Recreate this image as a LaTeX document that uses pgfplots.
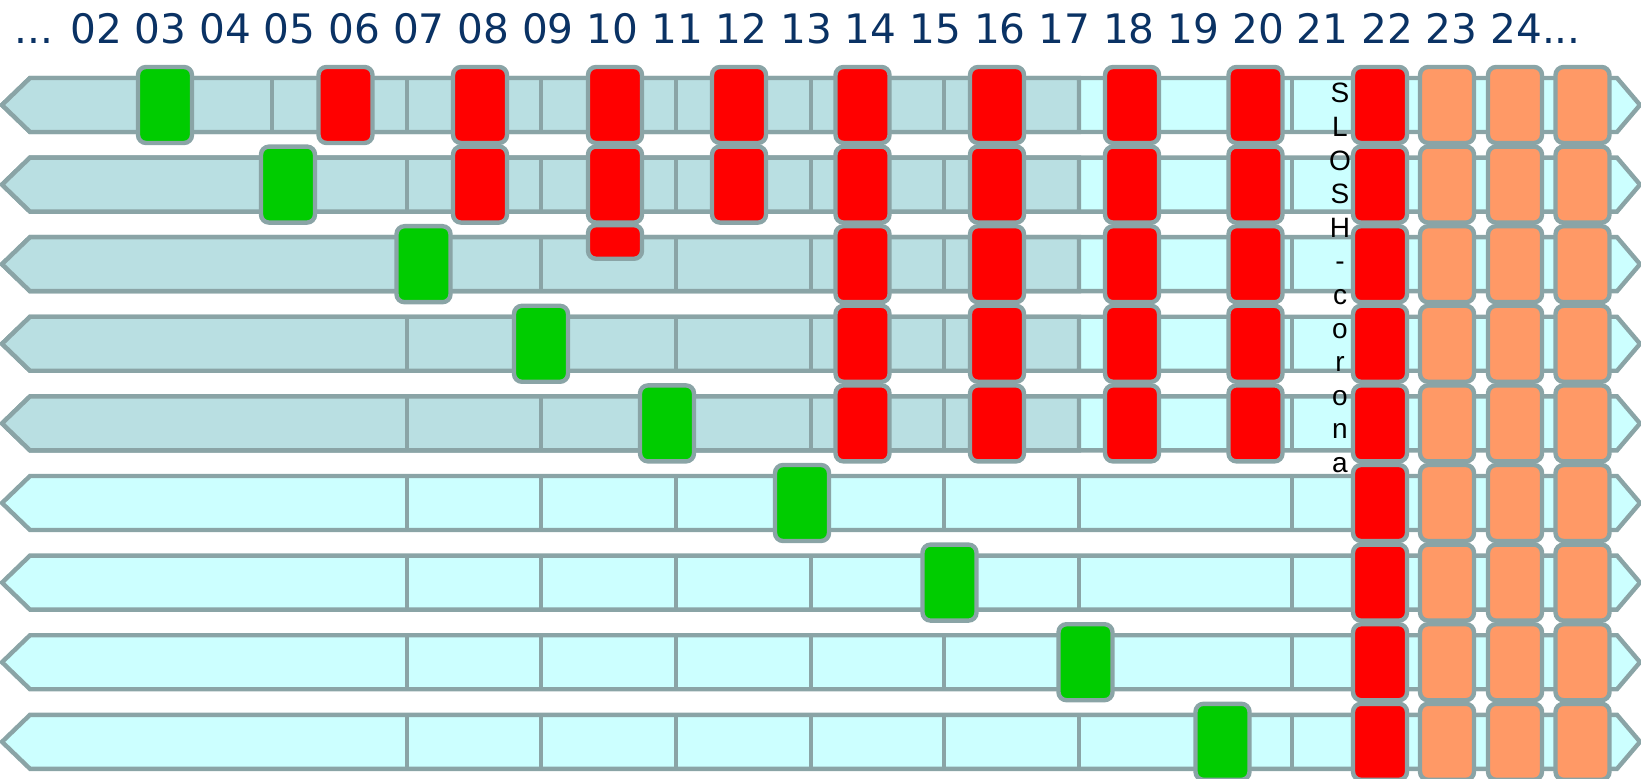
\documentclass[border=0pt]{standalone}
\usepackage{fontspec}
\usepackage{pgfplots}
\pgfplotsset{compat=1.18}
\newfontfamily\dejavu{DejaVu Sans}
\newfontfamily\libsans{Liberation Sans}
\definecolor{cstroke}{RGB}{138,164,166}
\definecolor{darkbar}{RGB}{185,223,226}
\definecolor{lightbar}{RGB}{204,255,255}
\definecolor{cgreen}{RGB}{0,204,0}
\definecolor{cred}{RGB}{255,0,0}
\definecolor{corange}{RGB}{255,153,102}
\definecolor{cblue}{RGB}{10,50,100}
\pgfplotsset{
  boxes/.style 2 args={draw=none, mark=none, nodes near coords={}, nodes near coords align={center},
    every node near coord/.style={anchor=center, draw=cstroke, fill=#1, line width=2.2pt,
      rounded corners=4pt, minimum width=27pt, minimum height=#2, inner sep=0pt, outer sep=0pt}},
  barstyle/.style={draw=cstroke, fill=#1, line width=2.2pt}
}
\begin{document}
\begin{tikzpicture}
\begin{axis}[width=820.5pt, height=389.5pt, scale only axis,
  xmin=0, xmax=1641, ymin=0, ymax=779, y dir=reverse,
  hide axis, clip=false, unbounded coords=jump]
\addplot[draw=none] coordinates {(0,0) (1641,779)};
% bars: whole row, light fill
\addplot[barstyle=lightbar] coordinates {(2,105) (30,78) (1617,78) (1640,105) (1617,132) (30,132)} -- cycle;
\addplot[barstyle=lightbar] coordinates {(2,184.6) (30,157.6) (1617,157.6) (1640,184.6) (1617,211.6) (30,211.6)} -- cycle;
\addplot[barstyle=lightbar] coordinates {(2,264.2) (30,237.2) (1617,237.2) (1640,264.2) (1617,291.2) (30,291.2)} -- cycle;
\addplot[barstyle=lightbar] coordinates {(2,343.8) (30,316.8) (1617,316.8) (1640,343.8) (1617,370.8) (30,370.8)} -- cycle;
\addplot[barstyle=lightbar] coordinates {(2,423.4) (30,396.4) (1617,396.4) (1640,423.4) (1617,450.4) (30,450.4)} -- cycle;
\addplot[barstyle=lightbar] coordinates {(2,503) (30,476) (1617,476) (1640,503) (1617,530) (30,530)} -- cycle;
\addplot[barstyle=lightbar] coordinates {(2,582.6) (30,555.6) (1617,555.6) (1640,582.6) (1617,609.6) (30,609.6)} -- cycle;
\addplot[barstyle=lightbar] coordinates {(2,662.2) (30,635.2) (1617,635.2) (1640,662.2) (1617,689.2) (30,689.2)} -- cycle;
\addplot[barstyle=lightbar] coordinates {(2,741.8) (30,714.8) (1617,714.8) (1640,741.8) (1617,768.8) (30,768.8)} -- cycle;
% darker left part of rows 1-5
\addplot[barstyle=darkbar] coordinates {(2,105) (30,78) (1079,78) (1079,132) (30,132)} -- cycle;
\addplot[barstyle=darkbar] coordinates {(2,184.6) (30,157.6) (1079,157.6) (1079,211.6) (30,211.6)} -- cycle;
\addplot[barstyle=darkbar] coordinates {(2,264.2) (30,237.2) (1079,237.2) (1079,291.2) (30,291.2)} -- cycle;
\addplot[barstyle=darkbar] coordinates {(2,343.8) (30,316.8) (1079,316.8) (1079,370.8) (30,370.8)} -- cycle;
\addplot[barstyle=darkbar] coordinates {(2,423.4) (30,396.4) (1079,396.4) (1079,450.4) (30,450.4)} -- cycle;
% separators
\addplot[draw=cstroke, line width=2.2pt] coordinates {
 (272,78) (272,132) (nan,nan)
 (407,78) (407,132) (nan,nan) (541,78) (541,132) (nan,nan) (676,78) (676,132) (nan,nan)
 (811,78) (811,132) (nan,nan) (944,78) (944,132) (nan,nan) (1292,78) (1292,132) (nan,nan)
 (407,157.6) (407,211.6) (nan,nan) (541,157.6) (541,211.6) (nan,nan) (676,157.6) (676,211.6) (nan,nan)
 (811,157.6) (811,211.6) (nan,nan) (944,157.6) (944,211.6) (nan,nan) (1292,157.6) (1292,211.6) (nan,nan)
 (407,237.2) (407,291.2) (nan,nan) (541,237.2) (541,291.2) (nan,nan) (676,237.2) (676,291.2) (nan,nan)
 (811,237.2) (811,291.2) (nan,nan) (944,237.2) (944,291.2) (nan,nan) (1292,237.2) (1292,291.2) (nan,nan)
 (407,316.8) (407,370.8) (nan,nan) (541,316.8) (541,370.8) (nan,nan) (676,316.8) (676,370.8) (nan,nan)
 (811,316.8) (811,370.8) (nan,nan) (944,316.8) (944,370.8) (nan,nan) (1292,316.8) (1292,370.8) (nan,nan)
 (407,396.4) (407,450.4) (nan,nan) (541,396.4) (541,450.4) (nan,nan) (676,396.4) (676,450.4) (nan,nan)
 (811,396.4) (811,450.4) (nan,nan) (944,396.4) (944,450.4) (nan,nan) (1292,396.4) (1292,450.4) (nan,nan)
 (407,476) (407,530) (nan,nan) (541,476) (541,530) (nan,nan) (676,476) (676,530) (nan,nan)
 (811,476) (811,530) (nan,nan) (944,476) (944,530) (nan,nan) (1079,476) (1079,530) (nan,nan) (1292,476) (1292,530) (nan,nan)
 (407,555.6) (407,609.6) (nan,nan) (541,555.6) (541,609.6) (nan,nan) (676,555.6) (676,609.6) (nan,nan)
 (811,555.6) (811,609.6) (nan,nan) (944,555.6) (944,609.6) (nan,nan) (1079,555.6) (1079,609.6) (nan,nan) (1292,555.6) (1292,609.6) (nan,nan)
 (407,635.2) (407,689.2) (nan,nan) (541,635.2) (541,689.2) (nan,nan) (676,635.2) (676,689.2) (nan,nan)
 (811,635.2) (811,689.2) (nan,nan) (944,635.2) (944,689.2) (nan,nan) (1079,635.2) (1079,689.2) (nan,nan) (1292,635.2) (1292,689.2) (nan,nan)
 (407,714.8) (407,768.8) (nan,nan) (541,714.8) (541,768.8) (nan,nan) (676,714.8) (676,768.8) (nan,nan)
 (811,714.8) (811,768.8) (nan,nan) (944,714.8) (944,768.8) (nan,nan) (1079,714.8) (1079,768.8) (nan,nan) (1292,714.8) (1292,768.8)
};
% green boxes
\addplot[boxes={cgreen}{38pt}] coordinates {
 (165,105) (288,184.6) (423.5,264.2) (541,343.8) (667,423.4) (802,503) (949.5,582.6) (1085.5,662.2) (1222.5,741.8)};
% red boxes
\addplot[boxes={cred}{38pt}] coordinates {
 (345.5,105) (480,105) (615,105) (739,105) (862.5,105) (997,105) (1132,105) (1255.5,105) (1380,105)
 (480,184.6) (615,184.6) (739,184.6) (862.5,184.6) (997,184.6) (1132,184.6) (1255.5,184.6) (1380,184.6)
 (862.5,264.2) (997,264.2) (1132,264.2) (1255.5,264.2) (1380,264.2)
 (862.5,343.8) (997,343.8) (1132,343.8) (1255.5,343.8) (1380,343.8)
 (862.5,423.4) (997,423.4) (1132,423.4) (1255.5,423.4) (1380,423.4)
 (1380,503) (1380,582.6) (1380,662.2) (1380,741.8)};
\addplot[boxes={cred}{16.8pt}] coordinates {(615,242)};
% orange boxes
\addplot[boxes={corange}{38pt}] coordinates {
 (1447,105) (1515,105) (1582.5,105)
 (1447,184.6) (1515,184.6) (1582.5,184.6)
 (1447,264.2) (1515,264.2) (1582.5,264.2)
 (1447,343.8) (1515,343.8) (1582.5,343.8)
 (1447,423.4) (1515,423.4) (1582.5,423.4)
 (1447,503) (1515,503) (1582.5,503)
 (1447,582.6) (1515,582.6) (1582.5,582.6)
 (1447,662.2) (1515,662.2) (1582.5,662.2)
 (1447,741.8) (1515,741.8) (1582.5,741.8)};
% header
\node[anchor=base west, inner sep=0pt, text=cblue, font=\dejavu\fontsize{20.3}{24}\selectfont]
  at (axis cs:14,44) {... 02 03 04 05 06 07 08 09 10 11 12 13 14 15 16 17 18 19 20 21 22 23 24...};
% vertical label
\node[anchor=north, inner sep=0pt, align=center, font=\libsans\fontsize{14}{16.8}\selectfont]
  at (axis cs:1340,83) {S\\L\\O\\S\\H\\-\\c\\o\\r\\o\\n\\a};
\end{axis}
\pgfresetboundingbox
\useasboundingbox (current axis.south west) rectangle (current axis.north east);
\end{tikzpicture}
\end{document}
